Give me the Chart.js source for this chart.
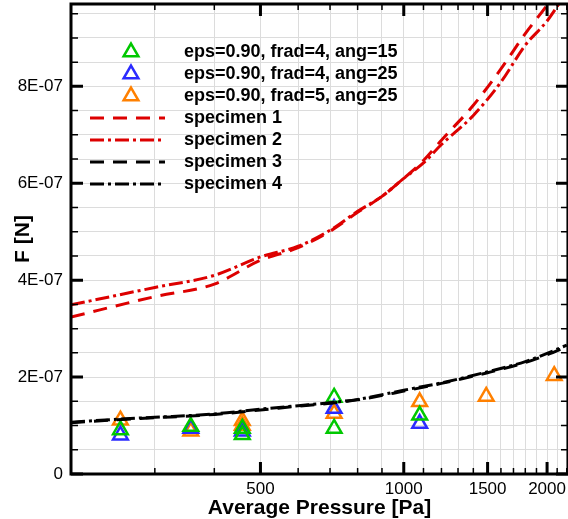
<!DOCTYPE html>
<html>
<head>
<meta charset="utf-8">
<script src="https://cdn.jsdelivr.net/npm/chart.js@4.4.0/dist/chart.umd.min.js"></script>
<style>
  body { margin: 0; background: #fff; }
</style>
</head>
<body>
<canvas id="grafico-forca" width="568" height="519"></canvas>
<script>
// forces are in units of 1E-07 N, pressures in Pa
var pressaoRed = [200, 300, 400, 500, 600, 700, 800, 900, 1000, 1100, 1200, 1400, 1600, 1800, 2000, 2200];
var specimen1 = [3.24, 3.66, 3.92, 4.41, 4.67, 5.01, 5.40, 5.73, 6.10, 6.47, 6.89, 7.61, 8.36, 9.09, 9.68, 10.3];
var specimen2 = [3.49, 3.85, 4.10, 4.48, 4.70, 5.03, 5.42, 5.73, 6.10, 6.42, 6.80, 7.40, 8.09, 8.85, 9.35, 9.95];

var pressaoBlack = [200, 250, 300, 400, 500, 600, 700, 800, 1000, 1200, 1500, 1800, 2000, 2200];
var specimen3 = [1.06, 1.12, 1.16, 1.23, 1.32, 1.40, 1.46, 1.53, 1.71, 1.87, 2.09, 2.30, 2.46, 2.63];
var specimen4 = [1.07, 1.13, 1.17, 1.24, 1.34, 1.41, 1.47, 1.54, 1.73, 1.88, 2.11, 2.32, 2.49, 2.66];

var pressaoAng15 = [254, 357, 458, 458, 714, 714, 1080];
var forcaAng15 = [0.91, 0.98, 0.94, 0.81, 1.58, 0.94, 1.21];
var pressaoAng25 = [254, 357, 458, 714, 1080];
var forcaAng25 = [0.80, 0.94, 0.88, 1.35, 1.04];
var pressaoFrad5 = [254, 357, 458, 458, 714, 1080, 1490, 2070];
var forcaFrad5 = [1.11, 0.88, 1.10, 1.00, 1.25, 1.49, 1.60, 2.03];

var xTickLabels = [500, 1000, 1500, 2000];
var yTickLabels = ["0", "2E-07", "4E-07", "6E-07", "8E-07"];

var fonte = "'Liberation Sans', Arial, Helvetica, sans-serif";

function pontos(xs, ys) {
  return xs.map(function (x, i) { return { x: x, y: ys[i] * 1e-7 }; });
}

function linha(label, xs, ys, cor, dash) {
  return {
    type: "line", label: label, data: pontos(xs, ys), borderColor: cor,
    borderWidth: 3, borderDash: dash, pointRadius: 0, fill: false,
    cubicInterpolationMode: "monotone", order: 0
  };
}

function marcador(label, xs, ys, cor) {
  return {
    type: "scatter", label: label, data: pontos(xs, ys), borderColor: cor,
    backgroundColor: "rgba(0,0,0,0)", pointStyle: "triangle", pointRadius: 8.5,
    pointBorderWidth: 2.5, showLine: false, order: 1
  };
}

var tracoDash = [14, 9];
var tracoDashDot = [14, 4, 3, 4];

var datasets = [
  marcador("eps=0.90, frad=4, ang=15", pressaoAng15, forcaAng15, "#00c800"),
  marcador("eps=0.90, frad=4, ang=25", pressaoAng25, forcaAng25, "#2b2bff"),
  marcador("eps=0.90, frad=5, ang=25", pressaoFrad5, forcaFrad5, "#ff8000"),
  linha("specimen 1", pressaoRed, specimen1, "#dd0000", tracoDash),
  linha("specimen 2", pressaoRed, specimen2, "#dd0000", tracoDashDot),
  linha("specimen 3", pressaoBlack, specimen3, "#000000", tracoDash),
  linha("specimen 4", pressaoBlack, specimen4, "#000000", tracoDashDot)
];

function ehMaiorY(v) {
  var k = v / 2e-7;
  return Math.abs(k - Math.round(k)) < 1e-6;
}

function semPadding(s) {
  s.paddingTop = 0; s.paddingBottom = 0; s.paddingLeft = 0; s.paddingRight = 0;
}

// box with inward ticks on all four sides
var molduraPlugin = {
  id: "moldura",
  afterDatasetsDraw: function (chart) {
    var ctx = chart.ctx, a = chart.chartArea;
    var sx = chart.scales.x, sy = chart.scales.y;
    ctx.save();
    ctx.strokeStyle = "#000";
    ctx.setLineDash([]);
    sx.ticks.forEach(function (t) {
      var px = sx.getPixelForValue(t.value);
      var maior = xTickLabels.indexOf(t.value) >= 0;
      var len = maior ? 12 : 6;
      ctx.lineWidth = maior ? 3 : 1.5;
      ctx.beginPath();
      ctx.moveTo(px, a.bottom); ctx.lineTo(px, a.bottom - len);
      ctx.moveTo(px, a.top); ctx.lineTo(px, a.top + len);
      ctx.stroke();
    });
    sy.ticks.forEach(function (t) {
      var py = sy.getPixelForValue(t.value);
      var maior = ehMaiorY(t.value);
      var len = maior ? 12 : 7;
      ctx.lineWidth = maior ? 3 : 1.5;
      ctx.beginPath();
      ctx.moveTo(a.left, py); ctx.lineTo(a.left + len, py);
      ctx.moveTo(a.right, py); ctx.lineTo(a.right - len, py);
      ctx.stroke();
    });
    ctx.lineWidth = 3;
    ctx.strokeRect(a.left, a.top, a.right - a.left, a.bottom - a.top);
    ctx.restore();
  },
  afterDraw: function (chart) {
    // legend inside the plot
    var ctx = chart.ctx;
    var xMarca = 131, xIni = 90, xFim = 165, xTexto = 184;
    ctx.save();
    chart.data.datasets.forEach(function (ds, i) {
      var y = 52 + i * 22;
      ctx.strokeStyle = ds.borderColor;
      if (ds.type === "scatter") {
        var r = 8.5;
        ctx.lineWidth = 2.5;
        ctx.setLineDash([]);
        ctx.beginPath();
        ctx.moveTo(xMarca, y - r);
        ctx.lineTo(xMarca + r * Math.sin(Math.PI / 3), y + r / 2);
        ctx.lineTo(xMarca - r * Math.sin(Math.PI / 3), y + r / 2);
        ctx.closePath();
        ctx.stroke();
      } else {
        ctx.lineWidth = 3;
        ctx.setLineDash(ds.borderDash);
        ctx.beginPath();
        ctx.moveTo(xIni, y);
        ctx.lineTo(xFim, y);
        ctx.stroke();
      }
      ctx.setLineDash([]);
      ctx.fillStyle = "#000";
      ctx.font = "bold 18px " + fonte;
      ctx.textAlign = "left";
      ctx.textBaseline = "middle";
      ctx.fillText(ds.label, xTexto, y);
    });
    ctx.restore();
  }
};

var config = {
  type: "scatter",
  data: { datasets: datasets },
  options: {
    responsive: false,
    animation: false,
    layout: { autoPadding: false, padding: { top: 4, right: 0, left: 0, bottom: 0 } },
    plugins: { legend: { display: false }, tooltip: { enabled: false } },
    scales: {
      x: {
        type: "logarithmic",
        position: "bottom",
        min: 200,
        max: 2213,
        afterBuildTicks: function (s) {
          var t = [];
          for (var v = 200; v <= 2200; v += 100) t.push({ value: v });
          s.ticks = t;
        },
        afterFit: function (s) { s.height = 45; semPadding(s); },
        grid: { color: "#dcdcdc", lineWidth: 1, drawTicks: false },
        border: { display: false },
        ticks: {
          autoSkip: false, maxRotation: 0, minRotation: 0, padding: 5, color: "#000",
          font: { family: fonte, size: 17 },
          callback: function (v) { return xTickLabels.indexOf(v) >= 0 ? String(v) : ""; }
        },
        title: {
          display: true, text: "Average Pressure [Pa]", color: "#000",
          font: { family: fonte, size: 21, weight: "bold", lineHeight: 1 },
          padding: { top: 0, bottom: 0 }
        }
      },
      y: {
        type: "linear",
        min: 0,
        max: 9.7e-7,
        afterBuildTicks: function (s) {
          var t = [];
          for (var i = 0; i <= 19; i++) t.push({ value: i * 0.5e-7 });
          s.ticks = t;
        },
        afterFit: function (s) { s.width = 71; semPadding(s); },
        grid: { color: "#dcdcdc", lineWidth: 1, drawTicks: false },
        border: { display: false },
        ticks: {
          autoSkip: false, padding: 8, color: "#000",
          font: { family: fonte, size: 17 },
          callback: function (v) {
            if (!ehMaiorY(v)) return "";
            return yTickLabels[Math.round(v / 2e-7)] || "";
          }
        },
        title: {
          display: true, text: "F [N]", color: "#000",
          font: { family: fonte, size: 21, weight: "bold", lineHeight: 1 },
          padding: { top: 13, bottom: 0 }
        }
      }
    }
  },
  plugins: [molduraPlugin]
};

var myChart = new Chart(document.getElementById("grafico-forca"), config);
</script>
</body>
</html>
